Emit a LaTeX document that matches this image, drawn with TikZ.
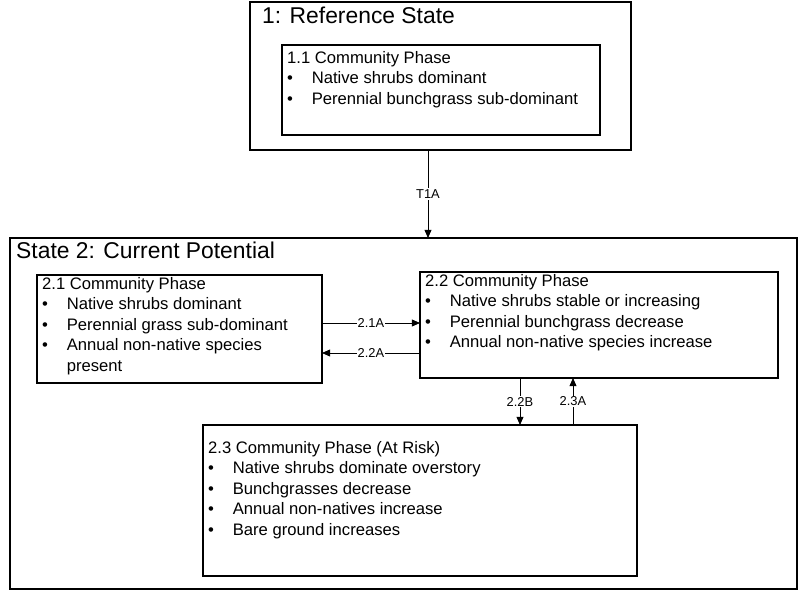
\documentclass[tikz,border=0pt]{standalone}
\usepackage{fontspec}
\setmainfont{Liberation Sans}
\usetikzlibrary{arrows.meta}
\tikzset{
  box/.style={draw, line width=0.9pt},
  txt/.style={anchor=north west, align=left, inner sep=0pt, font=\fontsize{14.2}{17.5}\selectfont},
  ttl/.style={anchor=north west, inner sep=0pt, font=\fontsize{19.5}{22}\selectfont},
  lbl/.style={fill=white, inner sep=1pt, font=\fontsize{11}{13}\selectfont},
  conn/.style={-{Triangle[length=7pt,width=6pt]}, line width=0.7pt}
}
\newcommand{\itm}{\\\makebox[21pt][l]{\textbullet}}
\begin{document}
\begin{tikzpicture}[x=0.03cm, y=-0.03cm]
    \useasboundingbox (0,0) rectangle (800,591);

    % Reference state
    \draw[box] (250,2) rectangle (631,150);
    \node[ttl] (t1) at (262,7) {1: Reference State};
    \draw[box] (282,45) rectangle (600,135);
    \node[txt] (p11) at (287,51) {1.1 Community Phase\itm Native shrubs dominant\itm Perennial bunchgrass sub-dominant};

    % State 2
    \draw[box] (10,238) rectangle (797,589);
    \node[txt, ttl] (t2) at (16,242) {State 2: Current Potential};

    \draw[box] (37,275) rectangle (322,383);
    \node[txt] (p21) at (42,277) {2.1 Community Phase\itm Native shrubs dominant\itm Perennial grass sub-dominant\itm Annual non-native species\\\hspace{21pt}present};

    \draw[box] (420,272) rectangle (778,378);
    \node[txt] (p22) at (425,274) {2.2 Community Phase\itm Native shrubs stable or increasing\itm Perennial bunchgrass decrease\itm Annual non-native species increase};

    \draw[box] (203,425) rectangle (637,576);
    \node[txt] (p23) at (208,441) {2.3 Community Phase (At Risk)\itm Native shrubs dominate overstory\itm Bunchgrasses decrease\itm Annual non-natives increase\itm Bare ground increases};

    % Transitions
    \coordinate (s1) at (428,150);
    \coordinate (e1) at (428,238);
    \coordinate (a1) at (322,323);
    \coordinate (b1) at (420,323);
    \coordinate (a2) at (420,353);
    \coordinate (b2) at (322,353);
    \coordinate (a3) at (520,378);
    \coordinate (b3) at (520,425);
    \coordinate (a4) at (573,425);
    \coordinate (b4) at (573,378);
    \draw[conn] (s1) -- node[lbl] {T1A} (e1);
    \draw[conn] (a1) -- node[lbl] {2.1A} (b1);
    \draw[conn] (a2) -- node[lbl] {2.2A} (b2);
    \draw[conn] (a3) -- node[lbl] {2.2B} (b3);
    \draw[conn] (a4) -- node[lbl] {2.3A} (b4);
\end{tikzpicture}
\end{document}
